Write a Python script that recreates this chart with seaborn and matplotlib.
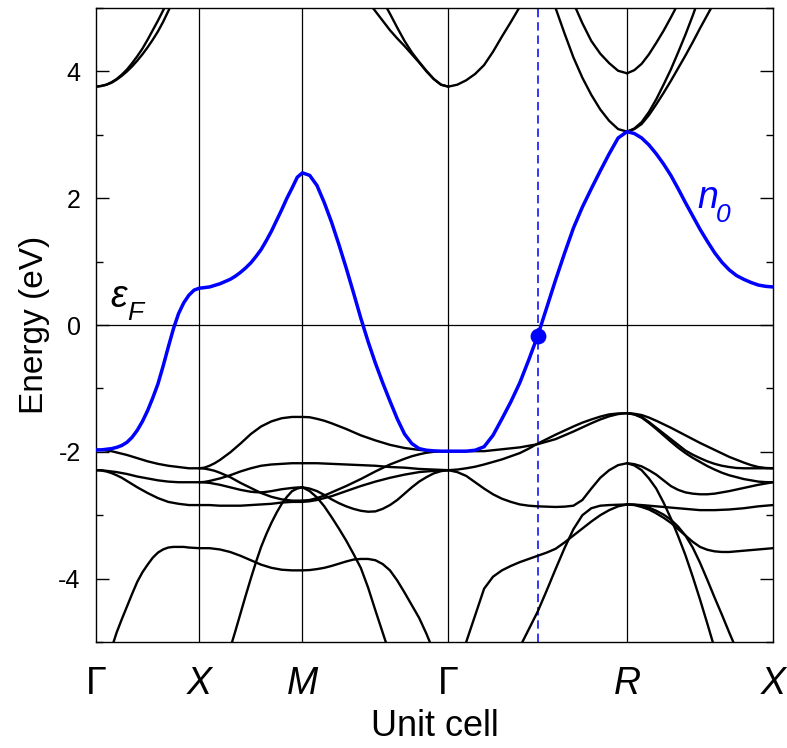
import matplotlib
matplotlib.use("Agg")
import matplotlib.pyplot as plt
from matplotlib.ticker import MultipleLocator
import pandas as pd
import seaborn as sns

# High-symmetry points along the simple-cubic path (k in units of 2*pi/a)
kpoint_labels = ["Γ", "X", "M", "Γ", "R", "X"]
kpoint_pos = [0.0, 0.5, 1.0, 1.70711, 2.57314, 3.28024]
kpoint_italic = [False, True, True, False, True, True]

# Sampling fractions along each path segment
frac = [0.00, 0.05, 0.10, 0.15, 0.20, 0.25, 0.30, 0.35, 0.40, 0.45, 0.50,
        0.55, 0.60, 0.65, 0.70, 0.75, 0.80, 0.85, 0.90, 0.95, 1.00]

N = None  # outside the plotted energy window

# Band energies (eV) on each segment
seg_GX = {
    "n0": [-1.97, -1.97, -1.96, -1.95, -1.93, -1.90, -1.85, -1.77, -1.66, -1.52, -1.35,
           -1.15, -0.93, -0.65, -0.35, -0.06, 0.18, 0.35, 0.47, 0.55, 0.58],
    "u1": [3.76, 3.77, 3.79, 3.83, 3.88, 3.95, 4.03, 4.13, 4.24, 4.36, 4.50,
           4.65, 4.80, 4.96, 5.13, 5.31, 5.50, N, N, N, N],
    "u2": [3.76, 3.77, 3.79, 3.82, 3.87, 3.93, 4.00, 4.08, 4.17, 4.27, 4.38,
           4.50, 4.63, 4.78, 4.95, 5.12, 5.30, N, N, N, N],
    "a": [-1.97, -1.97, -1.98, -1.99, -2.01, -2.03, -2.05, -2.075, -2.10, -2.125, -2.15,
          -2.17, -2.19, -2.205, -2.22, -2.23, -2.24, -2.25, -2.26, -2.26, -2.26],
    "b": [-2.29, -2.29, -2.30, -2.31, -2.32, -2.335, -2.35, -2.37, -2.39, -2.405, -2.42,
          -2.435, -2.45, -2.46, -2.47, -2.475, -2.48, -2.48, -2.48, -2.48, -2.48],
    "c": [-2.29, -2.295, -2.31, -2.335, -2.37, -2.41, -2.46, -2.51, -2.56, -2.605, -2.65,
          -2.69, -2.73, -2.76, -2.79, -2.805, -2.82, -2.83, -2.84, -2.84, -2.84],
    "d": [-5.80, -5.58, -5.35, -5.10, -4.85, -4.64, -4.44, -4.24, -4.05, -3.90, -3.78,
          -3.67, -3.59, -3.54, -3.51, -3.50, -3.50, -3.50, -3.51, -3.515, -3.52],
}
seg_XM = {
    "n0": [0.58, 0.59, 0.60, 0.625, 0.65, 0.685, 0.72, 0.77, 0.83, 0.90, 0.98,
           1.08, 1.19, 1.33, 1.48, 1.65, 1.82, 2.00, 2.16, 2.33, 2.40],
    "a1": [-2.26, -2.25, -2.22, -2.18, -2.13, -2.07, -2.01, -1.94, -1.87, -1.795, -1.72,
           -1.66, -1.60, -1.56, -1.52, -1.495, -1.47, -1.46, -1.45, -1.45, -1.45],
    "a2": [-2.26, -2.265, -2.28, -2.30, -2.33, -2.365, -2.40, -2.445, -2.49, -2.53, -2.57,
           -2.61, -2.65, -2.68, -2.71, -2.73, -2.75, -2.76, -2.77, -2.77, -2.77],
    "b1": [-2.48, -2.475, -2.46, -2.44, -2.42, -2.395, -2.37, -2.34, -2.31, -2.285, -2.26,
           -2.24, -2.22, -2.21, -2.20, -2.195, -2.19, -2.185, -2.18, -2.18, -2.18],
    "b2": [-2.48, -2.483, -2.49, -2.505, -2.52, -2.54, -2.56, -2.58, -2.60, -2.615, -2.63,
           -2.637, -2.64, -2.632, -2.62, -2.605, -2.59, -2.58, -2.57, -2.563, -2.56],
    "c": [-2.84, -2.84, -2.84, -2.845, -2.85, -2.85, -2.85, -2.85, -2.85, -2.845, -2.84,
          -2.835, -2.83, -2.825, -2.82, -2.81, -2.80, -2.795, -2.79, -2.79, -2.79],
    "d": [-3.52, -3.52, -3.52, -3.53, -3.54, -3.56, -3.58, -3.61, -3.64, -3.675, -3.71,
          -3.745, -3.78, -3.805, -3.83, -3.845, -3.86, -3.865, -3.87, -3.87, -3.87],
    "e": [-6.60, -6.35, -6.10, -5.85, -5.60, -5.35, -5.10, -4.83, -4.55, -4.27, -4.00,
          -3.74, -3.50, -3.30, -3.12, -2.96, -2.82, -2.71, -2.62, -2.58, -2.56],
}
seg_MG = {
    "n0": [2.40, 2.36, 2.20, 1.93, 1.62, 1.27, 0.90, 0.51, 0.11, -0.26, -0.60,
           -0.91, -1.20, -1.48, -1.72, -1.87, -1.95, -1.975, -1.985, -1.99, -1.99],
    "u1": [N, N, N, N, N, N, N, N, 5.25, 5.10, 4.95,
           4.80, 4.65, 4.52, 4.40, 4.27, 4.14, 4.00, 3.88, 3.79, 3.76],
    "u2": [N, N, N, N, N, N, N, N, N, N, 5.35,
           5.12, 4.91, 4.69, 4.48, 4.30, 4.15, 4.01, 3.88, 3.79, 3.76],
    "m1": [-1.45, -1.455, -1.48, -1.51, -1.55, -1.595, -1.64, -1.69, -1.74, -1.78, -1.82,
           -1.855, -1.89, -1.915, -1.94, -1.955, -1.97, -1.98, -1.99, -1.99, -1.99],
    "m2": [-2.18, -2.18, -2.18, -2.185, -2.19, -2.195, -2.20, -2.205, -2.21, -2.215, -2.22,
           -2.23, -2.24, -2.245, -2.25, -2.26, -2.27, -2.275, -2.28, -2.285, -2.29],
    "m3": [-2.77, -2.76, -2.73, -2.69, -2.64, -2.59, -2.54, -2.485, -2.43, -2.37, -2.31,
           -2.255, -2.20, -2.155, -2.11, -2.07, -2.04, -2.015, -2.00, -1.99, -1.99],
    "m4": [-2.79, -2.78, -2.76, -2.73, -2.70, -2.66, -2.62, -2.58, -2.54, -2.505, -2.47,
           -2.44, -2.41, -2.385, -2.36, -2.34, -2.32, -2.31, -2.30, -2.295, -2.29],
    "m5": [-2.56, -2.58, -2.62, -2.68, -2.75, -2.81, -2.86, -2.90, -2.93, -2.945, -2.94,
           -2.90, -2.84, -2.76, -2.66, -2.56, -2.47, -2.40, -2.34, -2.305, -2.29],
    "e": [-2.56, -2.62, -2.72, -2.86, -3.03, -3.21, -3.40, -3.61, -3.83, -4.14, -4.50,
          -4.85, -5.20, -5.55, -5.90, N, N, N, N, N, N],
    "d": [-3.87, -3.865, -3.85, -3.83, -3.80, -3.765, -3.73, -3.70, -3.69, -3.69, -3.71,
          -3.77, -3.87, -4.03, -4.22, -4.42, -4.62, -4.87, -5.15, -5.42, -5.70],
}
seg_GR = {
    "n0": [-1.99, -1.99, -1.99, -1.975, -1.92, -1.74, -1.48, -1.21, -0.91, -0.55, -0.17,
           0.27, 0.71, 1.13, 1.53, 1.86, 2.15, 2.43, 2.70, 2.95, 3.05],
    "u0": [3.76, 3.79, 3.86, 3.96, 4.10, 4.31, 4.55, 4.78, 5.02, 5.26, 5.50,
           N, N, N, N, N, N, N, N, N, N],
    "r1": [N, N, N, N, N, N, N, N, N, N, 5.70,
           5.35, 5.00, 4.60, 4.22, 3.90, 3.63, 3.40, 3.22, 3.09, 3.05],
    "r2": [N, N, N, N, N, N, N, N, N, N, N,
           N, 5.80, 5.42, 5.08, 4.76, 4.48, 4.28, 4.13, 4.01, 3.97],
    "g1": [-1.99, -1.99, -1.99, -1.99, -1.99, -1.975, -1.96, -1.945, -1.93, -1.905, -1.88,
           -1.84, -1.80, -1.74, -1.68, -1.615, -1.55, -1.49, -1.44, -1.405, -1.39],
    "g2": [-2.29, -2.28, -2.26, -2.235, -2.20, -2.16, -2.12, -2.07, -2.02, -1.95, -1.87,
           -1.80, -1.73, -1.665, -1.60, -1.54, -1.49, -1.445, -1.41, -1.395, -1.39],
    "g3": [-2.29, -2.32, -2.38, -2.48, -2.58, -2.67, -2.74, -2.79, -2.83, -2.85, -2.86,
           -2.865, -2.87, -2.865, -2.85, -2.76, -2.58, -2.41, -2.29, -2.21, -2.18],
    "g4": [-6.00, -5.45, -5.00, -4.58, -4.16, -3.97, -3.87, -3.80, -3.74, -3.69, -3.64,
           -3.59, -3.53, -3.43, -3.32, -3.21, -3.10, -3.00, -2.92, -2.86, -2.83],
    "g5": [N, N, N, N, N, N, -6.00, -5.55, -5.08, -4.80, -4.52,
           -4.19, -3.85, -3.52, -3.22, -3.00, -2.89, -2.85, -2.84, -2.835, -2.83],
}
seg_RX = {
    "n0": [3.05, 3.02, 2.95, 2.84, 2.70, 2.54, 2.36, 2.15, 1.93, 1.72, 1.51,
           1.32, 1.14, 0.99, 0.87, 0.78, 0.72, 0.67, 0.63, 0.61, 0.60],
    "r2": [3.97, 4.02, 4.12, 4.27, 4.45, 4.64, 4.85, 5.07, 5.30, N, N,
           N, N, N, N, N, N, N, N, N, N],
    "r1a": [3.05, 3.10, 3.20, 3.36, 3.56, 3.79, 4.03, 4.30, 4.58, 4.88, 5.20,
            N, N, N, N, N, N, N, N, N, N],
    "r1b": [3.05, 3.09, 3.17, 3.31, 3.48, 3.66, 3.85, 4.05, 4.25, 4.46, 4.68,
            4.89, 5.10, N, N, N, N, N, N, N, N],
    "l1": [-1.39, -1.40, -1.42, -1.46, -1.51, -1.565, -1.62, -1.68, -1.74, -1.80, -1.86,
           -1.915, -1.97, -2.025, -2.08, -2.125, -2.17, -2.21, -2.24, -2.255, -2.26],
    "l2": [-1.39, -1.41, -1.45, -1.53, -1.62, -1.71, -1.80, -1.89, -1.98, -2.045, -2.10,
           -2.15, -2.19, -2.22, -2.24, -2.255, -2.26, -2.26, -2.26, -2.26, -2.26],
    "l3": [-1.39, -1.41, -1.46, -1.545, -1.64, -1.74, -1.84, -1.935, -2.02, -2.095, -2.16,
           -2.225, -2.28, -2.33, -2.37, -2.40, -2.43, -2.45, -2.47, -2.478, -2.48],
    "l4": [-2.18, -2.195, -2.23, -2.29, -2.36, -2.45, -2.54, -2.60, -2.64, -2.66, -2.67,
           -2.67, -2.66, -2.64, -2.62, -2.595, -2.57, -2.545, -2.52, -2.50, -2.48],
    "l5": [-2.18, -2.215, -2.29, -2.42, -2.58, -2.80, -3.05, -3.33, -3.63, -3.97, -4.33,
           -4.71, -5.10, -5.45, -5.80, N, N, N, N, N, N],
    "l6": [-2.83, -2.835, -2.85, -2.88, -2.93, -2.99, -3.07, -3.18, -3.32, -3.51, -3.75,
           -4.02, -4.30, -4.57, -4.85, -5.12, -5.40, N, N, N, N],
    "l7": [-2.83, -2.833, -2.84, -2.85, -2.86, -2.87, -2.88, -2.89, -2.90, -2.91, -2.92,
           -2.92, -2.92, -2.915, -2.91, -2.90, -2.89, -2.875, -2.86, -2.85, -2.84],
    "l8": [-2.83, -2.84, -2.87, -2.91, -2.97, -3.04, -3.12, -3.22, -3.32, -3.42, -3.50,
           -3.545, -3.57, -3.58, -3.58, -3.57, -3.56, -3.55, -3.54, -3.53, -3.52],
}
segments = [seg_GX, seg_XM, seg_MG, seg_GR, seg_RX]

# State marked on the n0 band (halfway along Gamma-R)
mark_k = 2.142
mark_e = -0.17

# Long-form table of all bands
rows = []
for i, seg in enumerate(segments):
    k0, k1 = kpoint_pos[i], kpoint_pos[i + 1]
    for name, vals in seg.items():
        unit = "n0" if name == "n0" else f"{i}-{name}"
        for f, e in zip(frac, vals):
            if e is not None:
                rows.append({"k": k0 + f * (k1 - k0), "E": e, "band": unit})
bands = pd.DataFrame(rows)
black = bands[bands["band"] != "n0"]
blue = bands[bands["band"] == "n0"]

sns.set_style("ticks")
plt.rcParams["font.family"] = ["Liberation Sans", "DejaVu Sans"]
plt.rcParams["axes.unicode_minus"] = False
plt.rcParams["text.color"] = "black"
plt.rcParams["axes.labelcolor"] = "black"
plt.rcParams["xtick.color"] = "black"
plt.rcParams["ytick.color"] = "black"

BLUE = "#0000FF"

fig = plt.figure(figsize=(7.87, 7.48), dpi=100)
ax = fig.add_axes([0.1220, 0.1417, 0.8602, 0.8476])

for kp in kpoint_pos[1:-1]:
    ax.axvline(kp, color="black", lw=0.9, zorder=1)
ax.axhline(0, color="black", lw=0.9, zorder=1)
ax.axvline(mark_k, color=BLUE, lw=1.1, ls=(0, (5.5, 3.2)), zorder=1)

sns.lineplot(data=black, x="k", y="E", units="band", estimator=None,
             color="black", lw=1.7, ax=ax, legend=False, zorder=2)
sns.lineplot(data=blue, x="k", y="E", units="band", estimator=None,
             color=BLUE, lw=2.5, ax=ax, legend=False, zorder=3)
sns.scatterplot(x=[mark_k], y=[mark_e], color=BLUE, s=130, linewidth=0,
                ax=ax, zorder=4, legend=False)

ax.set_xlim(kpoint_pos[0], kpoint_pos[-1])
ax.set_ylim(-5, 5)

ax.set_yticks([-4, -2, 0, 2, 4])
ax.yaxis.set_minor_locator(MultipleLocator(1))
ax.tick_params(axis="y", which="major", direction="in", length=9.5, width=1.0,
               left=True, right=True, labelsize=18, pad=11, colors="black")
ax.tick_params(axis="y", which="minor", direction="in", length=5, width=1.0,
               left=True, right=True, colors="black")

ax.set_xticks(kpoint_pos)
ax.set_xticklabels(kpoint_labels)
for lab, it in zip(ax.get_xticklabels(), kpoint_italic):
    lab.set_fontstyle("italic" if it else "normal")
ax.tick_params(axis="x", which="both", length=0, labelsize=27, pad=17, colors="black")

ax.set_xlabel("Unit cell", fontsize=26, labelpad=5, color="black")
ax.set_ylabel("Energy (eV)", fontsize=24, labelpad=6, color="black")

for sp in ax.spines.values():
    sp.set_linewidth(1.0)
    sp.set_color("black")

# Fermi level and band labels
ax.text(0.068, 0.28, "ε", fontsize=27, fontstyle="italic", color="black", va="baseline")
ax.text(0.150, 0.08, "F", fontsize=19, fontstyle="italic", color="black", va="baseline")
ax.text(2.912, 1.85, "n", fontsize=27, fontstyle="italic", color=BLUE, va="baseline")
ax.text(3.005, 1.63, "0", fontsize=19, fontstyle="italic", color=BLUE, va="baseline")

fig.savefig("out.png", dpi=100)
